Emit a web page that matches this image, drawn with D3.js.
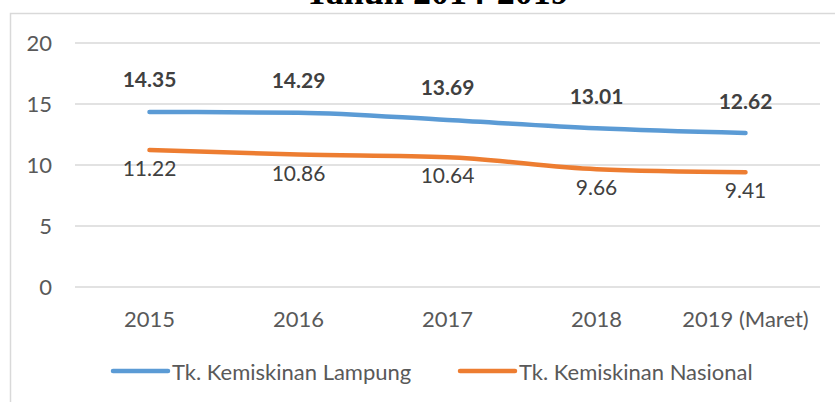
<!DOCTYPE html>
<html><head><meta charset="utf-8">
<script src="https://cdn.jsdelivr.net/npm/d3@7"></script>
<style>body{margin:0;background:#fff}svg{display:block}</style>
</head><body>
<svg id="c" width="835" height="402"></svg>
<script>
const categories = ["2015","2016","2017","2018","2019 (Maret)"];
const lampung = [14.35,14.29,13.69,13.01,12.62];
const nasional = [11.22,10.86,10.64,9.66,9.41];
const yTicks = [0,5,10,15,20];
const seriesNames = ["Tk. Kemiskinan Lampung","Tk. Kemiskinan Nasional"];
const titleText = "Tahun 2014-2019";

(function(){
const svg = d3.select("#c");
const font = "Lato, 'Open Sans', sans-serif";
const FS = 22;
const W = 835, H = 402;
const pl = 75, pr = 820, pt = 43, pb = 287;

// frame
svg.append("path").attr("d", `M10.5,${H} V13.5 H${W}`).attr("fill","none").attr("stroke","#d9d9d9").attr("stroke-width",1.5);
// title (cropped at top, as in the source image)
svg.append("text").attr("x", 437).attr("y", 3.5).attr("text-anchor","middle")
  .attr("font-family","'Liberation Serif', serif").attr("font-weight","bold").attr("font-size",36)
  .attr("fill","#000").text(titleText);

const x = d3.scaleBand().domain(categories).range([pl,pr]);
const y = d3.scaleLinear().domain([0,20]).range([pb,pt]);

svg.append("g").selectAll("line").data(yTicks).join("line")
  .attr("x1",pl).attr("x2",pr).attr("y1",d=>y(d)).attr("y2",d=>y(d))
  .attr("stroke","#d9d9d9").attr("stroke-width",1.5);

const yAxis = svg.append("g").attr("transform",`translate(${pl-23},0)`)
  .call(d3.axisLeft(y).tickValues(yTicks).tickSize(0).tickPadding(0));
yAxis.select(".domain").remove();
yAxis.selectAll("text").attr("font-family",font).attr("font-size",FS).attr("fill","#595959").attr("dy","0.35em");

const xAxis = svg.append("g").attr("transform",`translate(0,327)`)
  .call(d3.axisBottom(x).tickSize(0).tickPadding(0));
xAxis.select(".domain").remove();
xAxis.selectAll("text").attr("font-family",font).attr("font-size",FS).attr("fill","#595959").attr("y",0).attr("dy","0");

const cx = d => x(d) + x.bandwidth()/2;
const line = d3.line().x((d,i)=>cx(categories[i])).y(d=>y(d)).curve(d3.curveMonotoneX);
const colors = ["#5B9BD5","#ED7D31"];
[lampung, nasional].forEach((s,k)=>{
  svg.append("path").attr("d", line(s)).attr("fill","none").attr("stroke",colors[k])
    .attr("stroke-width",4.5).attr("stroke-linecap","round").attr("stroke-linejoin","round");
});

svg.append("g").selectAll("text").data(lampung).join("text")
  .attr("x",(d,i)=>cx(categories[i])).attr("y",d=>y(d)-24.5)
  .attr("text-anchor","middle").attr("font-family",font).attr("font-weight","bold")
  .attr("font-size",FS-1).attr("fill","#404040").text(d=>d.toFixed(2));
svg.append("g").selectAll("text").data(nasional).join("text")
  .attr("x",(d,i)=>cx(categories[i])).attr("y",d=>y(d)+26)
  .attr("text-anchor","middle").attr("font-family",font)
  .attr("font-size",FS-1).attr("fill","#404040").text(d=>d.toFixed(2));

const legX = [113, 460];
seriesNames.forEach((n,k)=>{
  svg.append("line").attr("x1",legX[k]).attr("x2",legX[k]+55).attr("y1",371).attr("y2",371)
    .attr("stroke",colors[k]).attr("stroke-width",4.5).attr("stroke-linecap","round");
  svg.append("text").attr("x",legX[k]+59).attr("y",379.5)
    .attr("font-family",font).attr("font-size",FS).attr("fill","#595959").text(n);
});
})();
</script>
</body></html>
